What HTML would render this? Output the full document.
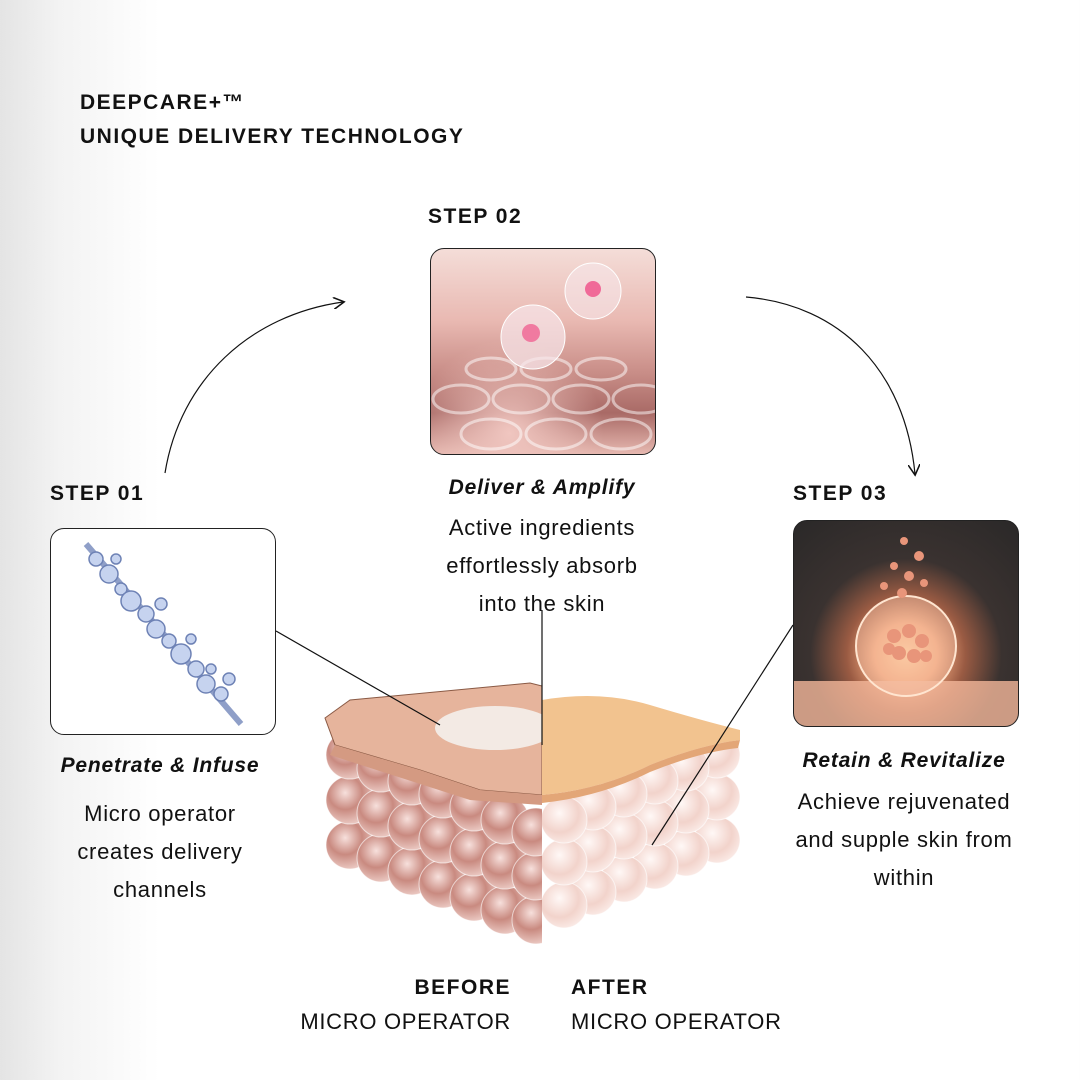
<!DOCTYPE html>
<html><head><meta charset="utf-8"><style>
html,body{margin:0;padding:0}
body{width:1080px;height:1080px;position:relative;overflow:hidden;font-family:"Liberation Sans","DejaVu Sans",sans-serif;color:#111;background:linear-gradient(90deg,#e4e4e4 0px,#f3f3f3 60px,#fff 160px,#fff 100%)}
.t{position:absolute;white-space:nowrap;letter-spacing:0.7px}
.h{font-weight:bold;font-size:21px;letter-spacing:1.5px}
.it{font-weight:bold;font-style:italic;font-size:21px;text-align:center;letter-spacing:0.8px}
.b{font-size:22px;line-height:38px;text-align:center}
.img{position:absolute;width:224px;height:205px;border:1px solid #222;border-radius:14px;overflow:hidden}
</style></head><body>
<div class="t h" style="left:80px;top:91px">DEEPCARE+™</div>
<div class="t h" style="left:80px;top:125px">UNIQUE DELIVERY TECHNOLOGY</div>
<div class="t h" style="left:428px;top:205px">STEP 02</div>
<div class="t h" style="left:50px;top:482px">STEP 01</div>
<div class="t h" style="left:793px;top:482px">STEP 03</div>

<div class="img" style="left:430px;top:248px;background:radial-gradient(circle at 35% 90%,#f0c6c0,transparent 40%),linear-gradient(180deg,#f4ddd8 0%,#e9b9b2 35%,#c98e88 60%,#a96a66 80%,#e6b8b0 100%)">
<svg width="224" height="205"><g fill="none" stroke="#fff" stroke-opacity=".5" stroke-width="3">
<ellipse cx="30" cy="150" rx="28" ry="14"/><ellipse cx="90" cy="150" rx="28" ry="14"/><ellipse cx="150" cy="150" rx="28" ry="14"/><ellipse cx="210" cy="150" rx="28" ry="14"/>
<ellipse cx="60" cy="185" rx="30" ry="15"/><ellipse cx="125" cy="185" rx="30" ry="15"/><ellipse cx="190" cy="185" rx="30" ry="15"/>
<ellipse cx="60" cy="120" rx="25" ry="11"/><ellipse cx="115" cy="120" rx="25" ry="11"/><ellipse cx="170" cy="120" rx="25" ry="11"/></g>
<circle cx="102" cy="88" r="32" fill="#f6e6ea" fill-opacity=".7" stroke="#fff"/><circle cx="100" cy="84" r="9" fill="#f07aa0"/>
<circle cx="162" cy="42" r="28" fill="#f6e6ea" fill-opacity=".6" stroke="#fff"/><circle cx="162" cy="40" r="8" fill="#f06a98"/></svg></div>

<div class="img" style="left:50px;top:528px;background:#fff">
<svg width="224" height="205"><line x1="35" y1="15" x2="190" y2="195" stroke="#8f9fc8" stroke-width="6"/>
<g fill="#c6d3ef" stroke="#6e82b5" stroke-width="1.5">
<circle cx="45" cy="30" r="7"/><circle cx="58" cy="45" r="9"/><circle cx="70" cy="60" r="6"/><circle cx="80" cy="72" r="10"/><circle cx="95" cy="85" r="8"/><circle cx="105" cy="100" r="9"/><circle cx="118" cy="112" r="7"/><circle cx="130" cy="125" r="10"/><circle cx="145" cy="140" r="8"/><circle cx="155" cy="155" r="9"/><circle cx="170" cy="165" r="7"/><circle cx="178" cy="150" r="6"/><circle cx="65" cy="30" r="5"/><circle cx="110" cy="75" r="6"/><circle cx="140" cy="110" r="5"/><circle cx="160" cy="140" r="5"/></g></svg></div>

<div class="img" style="left:793px;top:520px;background:radial-gradient(circle at 50% 65%,#ffcf9e 0,#f2a77d 18%,#9a5b43 34%,#3a3230 55%,#2a2828 100%)">
<svg width="224" height="205"><rect x="0" y="160" width="224" height="45" fill="#f2b79a" opacity=".8"/>
<circle cx="112" cy="125" r="50" fill="#f7c4a8" fill-opacity=".45" stroke="#ffe5d0" stroke-width="2"/>
<g fill="#e8957a"><circle cx="100" cy="115" r="7"/><circle cx="115" cy="110" r="7"/><circle cx="128" cy="120" r="7"/><circle cx="105" cy="132" r="7"/><circle cx="120" cy="135" r="7"/><circle cx="95" cy="128" r="6"/><circle cx="132" cy="135" r="6"/>
<circle cx="110" cy="20" r="4"/><circle cx="125" cy="35" r="5"/><circle cx="100" cy="45" r="4"/><circle cx="115" cy="55" r="5"/><circle cx="90" cy="65" r="4"/><circle cx="130" cy="62" r="4"/><circle cx="108" cy="72" r="5"/></g></svg></div>

<div class="t it" style="left:342px;top:476px;width:400px">Deliver &amp; Amplify</div>
<div class="t b" style="left:342px;top:509px;width:400px">Active ingredients<br>effortlessly absorb<br>into the skin</div>
<div class="t it" style="left:-40px;top:754px;width:400px">Penetrate &amp; Infuse</div>
<div class="t b" style="left:-40px;top:795px;width:400px">Micro operator<br>creates delivery<br>channels</div>
<div class="t it" style="left:704px;top:749px;width:400px">Retain &amp; Revitalize</div>
<div class="t b" style="left:704px;top:783px;width:400px">Achieve rejuvenated<br>and supple skin from<br>within</div>

<svg style="position:absolute;left:0;top:0" width="1080" height="1080">
<defs>
<radialGradient id="d" cx=".4" cy=".35" r=".7"><stop offset="0" stop-color="#f7e0dc"/><stop offset=".5" stop-color="#c98a80"/><stop offset="1" stop-color="#efd0ca"/></radialGradient>
<radialGradient id="l" cx=".4" cy=".35" r=".7"><stop offset="0" stop-color="#fff8f6"/><stop offset=".6" stop-color="#f2d3cb"/><stop offset="1" stop-color="#fbece8"/></radialGradient>
<clipPath id="lc"><rect x="300" y="650" width="242" height="320"/></clipPath>
<marker id="a" markerWidth="10" markerHeight="10" refX="8" refY="5" orient="auto"><path d="M0,0 L9,5 L0,10" fill="none" stroke="#111" stroke-width="1.3"/></marker>
</defs>
<g fill="url(#l)" stroke="#fff" stroke-opacity=".6">
<circle cx="717" cy="840" r="23"/><circle cx="686" cy="853" r="23"/><circle cx="655" cy="866" r="23"/><circle cx="624" cy="879" r="23"/><circle cx="593" cy="892" r="23"/><circle cx="564" cy="905" r="23"/>
<circle cx="717" cy="797" r="23"/><circle cx="686" cy="810" r="23"/><circle cx="655" cy="823" r="23"/><circle cx="624" cy="836" r="23"/><circle cx="593" cy="849" r="23"/><circle cx="564" cy="862" r="23"/>
<circle cx="717" cy="755" r="23"/><circle cx="686" cy="768" r="23"/><circle cx="655" cy="781" r="23"/><circle cx="624" cy="794" r="23"/><circle cx="593" cy="807" r="23"/><circle cx="564" cy="820" r="23"/>
</g>
<g fill="url(#d)" stroke="#fff" stroke-opacity=".6" clip-path="url(#lc)">
<circle cx="350" cy="845" r="24"/><circle cx="381" cy="858" r="24"/><circle cx="412" cy="871" r="24"/><circle cx="443" cy="884" r="24"/><circle cx="474" cy="897" r="24"/><circle cx="505" cy="910" r="24"/><circle cx="536" cy="920" r="24"/>
<circle cx="350" cy="800" r="24"/><circle cx="381" cy="813" r="24"/><circle cx="412" cy="826" r="24"/><circle cx="443" cy="839" r="24"/><circle cx="474" cy="852" r="24"/><circle cx="505" cy="865" r="24"/><circle cx="536" cy="876" r="24"/>
<circle cx="350" cy="755" r="24"/><circle cx="381" cy="768" r="24"/><circle cx="412" cy="781" r="24"/><circle cx="443" cy="794" r="24"/><circle cx="474" cy="807" r="24"/><circle cx="505" cy="820" r="24"/><circle cx="536" cy="832" r="24"/>
</g>
<path d="M325,718 L350,700 L530,683 L542,686 L542,795 L480,790 L420,770 L335,745 Z" fill="#e6b49c" stroke="#8a5a45" stroke-width="1"/>
<path d="M335,745 L420,770 L480,790 L542,795 L542,805 L470,800 L330,755 Z" fill="#d49a82"/>
<ellipse cx="495" cy="728" rx="60" ry="22" fill="#f4efec" opacity=".9"/>
<path d="M542,700 Q600,690 650,705 Q700,720 740,730 L740,740 Q700,745 650,765 Q600,790 542,795 Z" fill="#f2c38f"/>
<path d="M542,795 Q600,790 650,765 Q700,745 740,740 L738,748 Q700,752 650,772 Q600,797 542,803 Z" fill="#e3a677"/>
<g stroke="#111" stroke-width="1.2" fill="none">
<line x1="276" y1="631" x2="440" y2="725"/>
<line x1="542" y1="610" x2="542" y2="745"/>
<line x1="793" y1="625" x2="652" y2="845"/>
<path d="M165,473 C180,380 250,315 343,302" marker-end="url(#a)"/>
<path d="M746,297 C840,305 905,370 915,474" marker-end="url(#a)"/>
</g>
</svg>

<div class="t h" style="left:311px;top:976px;width:200px;text-align:right">BEFORE</div>
<div class="t" style="left:211px;top:1009px;width:300px;text-align:right;font-size:22px">MICRO OPERATOR</div>
<div class="t h" style="left:571px;top:976px">AFTER</div>
<div class="t" style="left:571px;top:1009px;font-size:22px">MICRO OPERATOR</div>
</body></html>
